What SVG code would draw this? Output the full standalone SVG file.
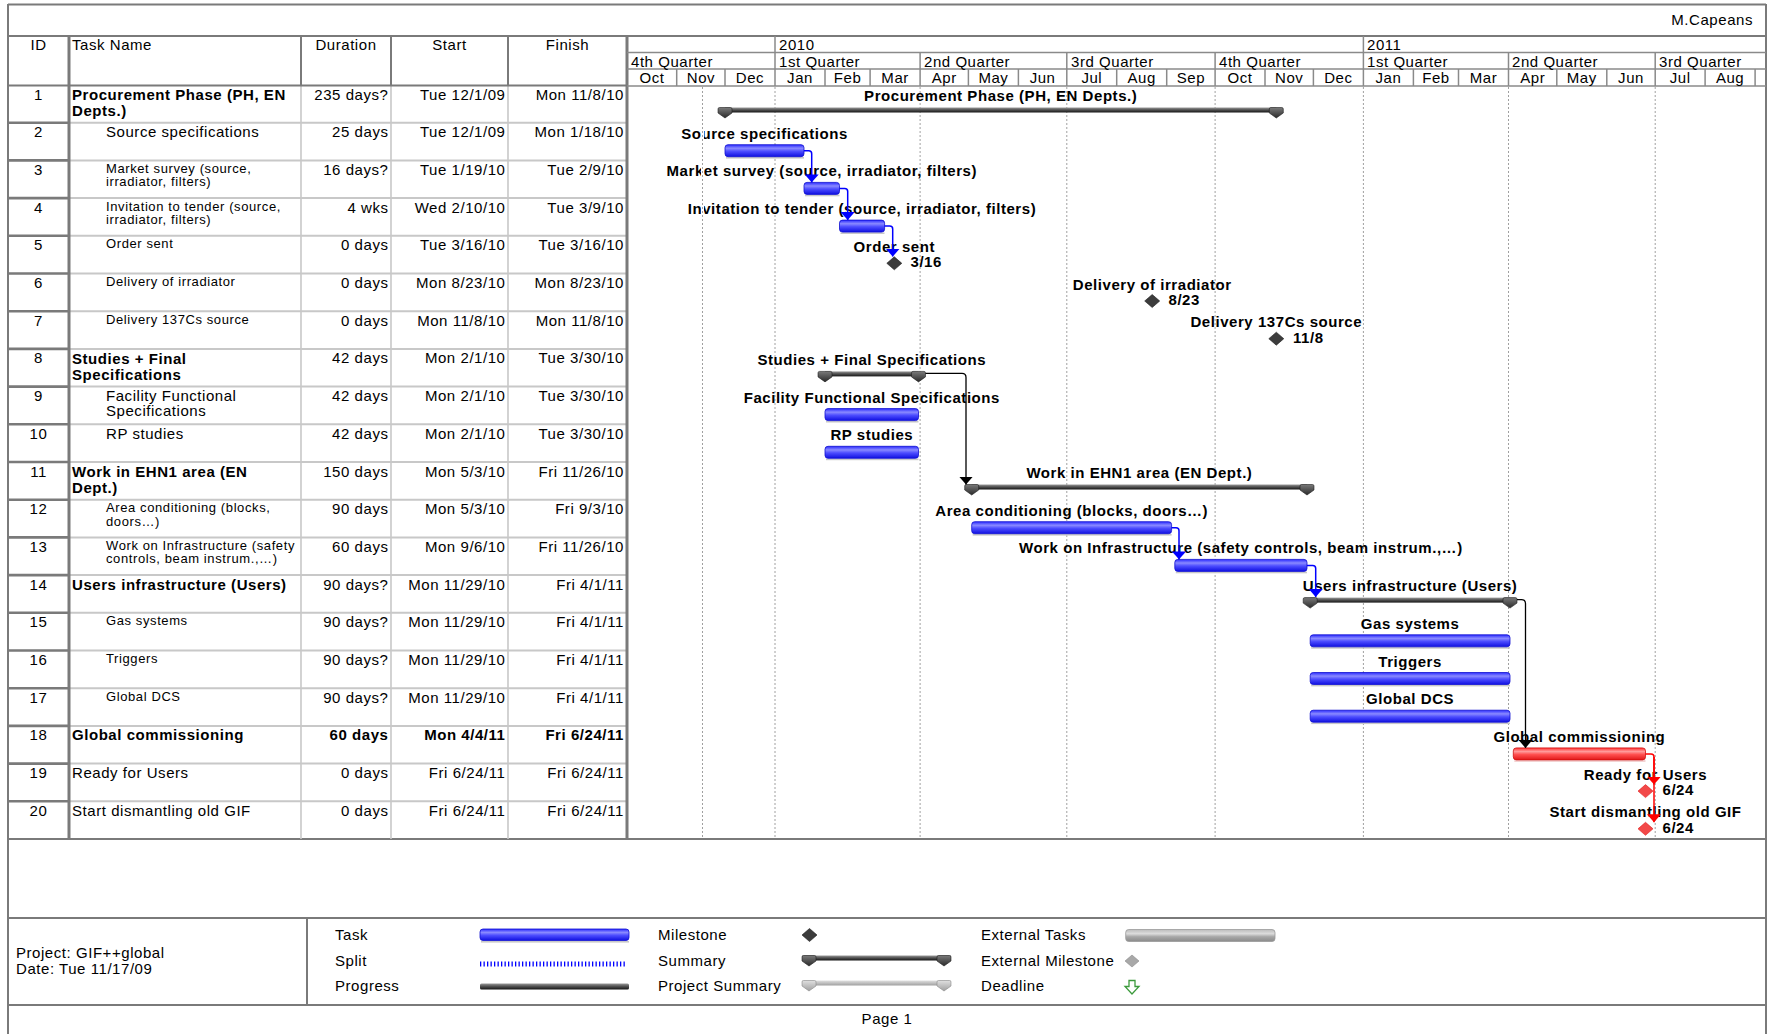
<svg xmlns="http://www.w3.org/2000/svg" width="1767" height="1034" viewBox="0 0 1767 1034">
<defs>
<style>
text{font-family:"Liberation Sans",Arial,sans-serif;font-size:15px;fill:#000;letter-spacing:0.55px}
.b{font-weight:bold}
.s{font-size:13px;letter-spacing:0.6px}
.m{text-anchor:middle}
.r{text-anchor:end}
.gl{font-weight:bold;text-anchor:middle}
.dk{stroke:#7a7a7a;fill:none}
.lt{stroke:#c8c8c8;fill:none}
.hd{stroke:#8a8a8a;stroke-width:1.5;fill:none}
.grid{stroke:#a0a0a0;stroke-width:1;stroke-dasharray:2 2;fill:none}
.bar{fill:url(#gBlue);stroke:#1010d0;stroke-width:0.8}
.rbar{fill:url(#gRed);stroke:#d01010;stroke-width:0.8}
.sh{fill:#c8c8c8}
.sum{fill:url(#gSum)}
.cb{stroke:#0000ff;stroke-width:1.5;fill:none;marker-end:url(#aB)}
.ck{stroke:#000;stroke-width:1.3;fill:none;marker-end:url(#aK)}
.cr{stroke:#ff0000;stroke-width:1.5;fill:none;marker-end:url(#aR)}
</style>
<linearGradient id="gBlue" x1="0" y1="0" x2="0" y2="1">
<stop offset="0" stop-color="#2a2aff"/><stop offset="0.3" stop-color="#8a8aff"/><stop offset="0.55" stop-color="#4d4dff"/><stop offset="1" stop-color="#1010e0"/>
</linearGradient>
<linearGradient id="gRed" x1="0" y1="0" x2="0" y2="1">
<stop offset="0" stop-color="#ff3030"/><stop offset="0.3" stop-color="#ff9a9a"/><stop offset="0.55" stop-color="#ff5050"/><stop offset="1" stop-color="#e01818"/>
</linearGradient>
<linearGradient id="gSum" x1="0" y1="0" x2="0" y2="1">
<stop offset="0" stop-color="#9a9a9a"/><stop offset="0.45" stop-color="#555"/><stop offset="1" stop-color="#151515"/>
</linearGradient>
<linearGradient id="gCap" x1="0" y1="0" x2="0" y2="1">
<stop offset="0" stop-color="#7a7a7a"/><stop offset="1" stop-color="#2a2a2a"/>
</linearGradient>
<linearGradient id="gProj" x1="0" y1="0" x2="0" y2="1">
<stop offset="0" stop-color="#e0e0e0"/><stop offset="1" stop-color="#a0a0a0"/>
</linearGradient>
<linearGradient id="gExt" x1="0" y1="0" x2="0" y2="1">
<stop offset="0" stop-color="#bcbcbc"/><stop offset="0.35" stop-color="#dcdcdc"/><stop offset="0.6" stop-color="#a8a8a8"/><stop offset="1" stop-color="#8a8a8a"/>
</linearGradient>
<marker id="aB" viewBox="0 0 8 14" refX="8" refY="7" markerWidth="8" markerHeight="14" markerUnits="userSpaceOnUse" orient="auto"><path d="M0,0L8,7L0,14Z" fill="#0000ff"/></marker>
<marker id="aK" viewBox="0 0 8 14" refX="8" refY="7" markerWidth="8" markerHeight="14" markerUnits="userSpaceOnUse" orient="auto"><path d="M0,0L8,7L0,14Z" fill="#000"/></marker>
<marker id="aR" viewBox="0 0 8 14" refX="8" refY="7" markerWidth="8" markerHeight="14" markerUnits="userSpaceOnUse" orient="auto"><path d="M0,0L8,7L0,14Z" fill="#ff0000"/></marker>
<path id="cap" d="M-7,1.5Q-7,0 -5.5,0H5.5Q7,0 7,1.5V5.5L0,10.5L-7,5.5Z" fill="url(#gCap)" stroke="#1e1e1e" stroke-width="0.6"/>
<path id="capL" d="M-7,1.5Q-7,0 -5.5,0H5.5Q7,0 7,1.5V5.5L0,10.5L-7,5.5Z" fill="url(#gProj)" stroke="#8a8a8a" stroke-width="0.6"/>
<path id="ms" d="M0,-6.5L7.5,0L0,6.5L-7.5,0Z" fill="#3c3c3c" stroke="#1e1e1e" stroke-width="0.6"/>
<path id="msr" d="M0,-6.5L7.5,0L0,6.5L-7.5,0Z" fill="#f24848" stroke="#e01c1c" stroke-width="0.6"/>
<path id="msg" d="M0,-6L7,0L0,6L-7,0Z" fill="#a8a8a8" stroke="#8a8a8a" stroke-width="0.6"/>
</defs>
<rect x="0" y="0" width="1767" height="1034" fill="#fff"/>

<g id="frame">
<path class="dk" stroke-width="2" d="M8,4.5H1766 M8,4V1034 M1766,4V1034 M8,36H1766 M8,839H1766 M8,918H1766 M8,1005H1766 M307,918V1005"/>
<text class="r" x="1753" y="25">M.Capeans</text>
</g>

<g id="table-grid">
<path class="lt" stroke-width="2" d="M69,122.7H627 M69,160.4H627 M69,198.1H627 M69,235.8H627 M69,273.5H627 M69,311.2H627 M69,348.9H627 M69,386.6H627 M69,424.3H627 M69,462H627 M69,499.7H627 M69,537.4H627 M69,575.1H627 M69,612.8H627 M69,650.5H627 M69,688.2H627 M69,725.9H627 M69,763.6H627 M69,801.3H627"/>
<path class="lt" stroke-width="1.6" d="M301,85V839 M391,85V839 M508,85V839"/>
<path class="dk" stroke-width="2.6" d="M8,122.7H69 M8,160.4H69 M8,198.1H69 M8,235.8H69 M8,273.5H69 M8,311.2H69 M8,348.9H69 M8,386.6H69 M8,424.3H69 M8,462H69 M8,499.7H69 M8,537.4H69 M8,575.1H69 M8,612.8H69 M8,650.5H69 M8,688.2H69 M8,725.9H69 M8,763.6H69 M8,801.3H69"/>
<path class="dk" stroke-width="3" d="M69,36V839 M627,36V839"/>
<path class="dk" stroke-width="2" d="M301,36V85 M391,36V85 M508,36V85 M8,85.5H627"/>
<text class="m" x="38.5" y="50">ID</text>
<text x="72" y="50">Task Name</text>
<text class="m" x="346" y="50">Duration</text>
<text class="m" x="449.5" y="50">Start</text>
<text class="m" x="567.5" y="50">Finish</text>
</g>

<g id="timescale">
<path class="hd" d="M627,52.5H1766 M627,69H1766 M627,86H1766 M775,36V52 M1363.4,36V52 M775,52V69 M920.1,52V69 M1066.8,52V69 M1215.1,52V69 M1363.4,52V69 M1508.5,52V69 M1655.2,52V69 M676.7,69V86 M725,69V86 M775,69V86 M825,69V86 M870.1,69V86 M920.1,69V86 M968.4,69V86 M1018.4,69V86 M1066.8,69V86 M1116.7,69V86 M1166.7,69V86 M1215.1,69V86 M1265,69V86 M1313.4,69V86 M1363.4,69V86 M1413.4,69V86 M1458.5,69V86 M1508.5,69V86 M1556.8,69V86 M1606.8,69V86 M1655.2,69V86 M1705.1,69V86 M1755.1,69V86"/>
<text x="779" y="50">2010</text>
<text x="1367" y="50">2011</text>
<text x="631" y="66.5">4th Quarter</text>
<text x="779" y="66.5">1st Quarter</text>
<text x="924" y="66.5">2nd Quarter</text>
<text x="1071" y="66.5">3rd Quarter</text>
<text x="1219" y="66.5">4th Quarter</text>
<text x="1367" y="66.5">1st Quarter</text>
<text x="1512" y="66.5">2nd Quarter</text>
<text x="1659" y="66.5">3rd Quarter</text>
<text class="m" x="652" y="83">Oct</text>
<text class="m" x="701" y="83">Nov</text>
<text class="m" x="750" y="83">Dec</text>
<text class="m" x="800" y="83">Jan</text>
<text class="m" x="847.6" y="83">Feb</text>
<text class="m" x="895.1" y="83">Mar</text>
<text class="m" x="944.3" y="83">Apr</text>
<text class="m" x="993.4" y="83">May</text>
<text class="m" x="1042.6" y="83">Jun</text>
<text class="m" x="1091.8" y="83">Jul</text>
<text class="m" x="1141.7" y="83">Aug</text>
<text class="m" x="1190.9" y="83">Sep</text>
<text class="m" x="1240.1" y="83">Oct</text>
<text class="m" x="1289.2" y="83">Nov</text>
<text class="m" x="1338.4" y="83">Dec</text>
<text class="m" x="1388.4" y="83">Jan</text>
<text class="m" x="1436" y="83">Feb</text>
<text class="m" x="1483.5" y="83">Mar</text>
<text class="m" x="1532.7" y="83">Apr</text>
<text class="m" x="1581.8" y="83">May</text>
<text class="m" x="1631" y="83">Jun</text>
<text class="m" x="1680.2" y="83">Jul</text>
<text class="m" x="1730.1" y="83">Aug</text>
</g>

<g id="gridlines">
<path class="grid" d="M775,87V838 M920.1,87V838 M1066.8,87V838 M1215.1,87V838 M1363.4,87V838 M1508.5,87V838 M1655.2,87V838"/>
</g>

<g id="task-1">
<text class="m" x="38.5" y="99.5">1</text>
<text class="b" x="72" y="100">Procurement Phase (PH, EN</text>
<text class="b" x="72" y="116">Depts.)</text>
<text class="r" x="388.5" y="99.5">235 days?</text>
<text class="r" x="505.5" y="99.5">Tue 12/1/09</text>
<text class="r" x="624" y="99.5">Mon 11/8/10</text>
<rect class="sum" x="725" y="107.5" width="551.3" height="5"/>
<use href="#cap" x="725" y="107.5"/><use href="#cap" x="1276.3" y="107.5"/>
<text class="gl" x="1000.7" y="101">Procurement Phase (PH, EN Depts.)</text>
</g>

<g id="task-2">
<text class="m" x="38.5" y="137.2">2</text>
<text x="106" y="137.2">Source specifications</text>
<text class="r" x="388.5" y="137.2">25 days</text>
<text class="r" x="505.5" y="137.2">Tue 12/1/09</text>
<text class="r" x="624" y="137.2">Mon 1/18/10</text>
<rect class="sh" x="726" y="157" width="78" height="1.6"/>
<rect class="bar" x="725" y="144.7" width="79" height="12" rx="3"/>
<text class="gl" x="764.5" y="138.7">Source specifications</text>
</g>

<g id="task-3">
<text class="m" x="38.5" y="174.9">3</text>
<text class="s" x="106" y="172.9">Market survey (source,</text>
<text class="s" x="106" y="186.4">irradiator, filters)</text>
<text class="r" x="388.5" y="174.9">16 days?</text>
<text class="r" x="505.5" y="174.9">Tue 1/19/10</text>
<text class="r" x="624" y="174.9">Tue 2/9/10</text>
<rect class="sh" x="805" y="194.7" width="34.5" height="1.6"/>
<rect class="bar" x="804" y="182.4" width="35.5" height="12" rx="3"/>
<text class="gl" x="821.8" y="176.4">Market survey (source, irradiator, filters)</text>
</g>

<g id="task-4">
<text class="m" x="38.5" y="212.6">4</text>
<text class="s" x="106" y="210.6">Invitation to tender (source,</text>
<text class="s" x="106" y="224.1">irradiator, filters)</text>
<text class="r" x="388.5" y="212.6">4 wks</text>
<text class="r" x="505.5" y="212.6">Wed 2/10/10</text>
<text class="r" x="624" y="212.6">Tue 3/9/10</text>
<rect class="sh" x="840.5" y="232.4" width="44" height="1.6"/>
<rect class="bar" x="839.5" y="220.1" width="45.1" height="12" rx="3"/>
<text class="gl" x="862" y="214.1">Invitation to tender (source, irradiator, filters)</text>
</g>

<g id="task-5">
<text class="m" x="38.5" y="250.3">5</text>
<text class="s" x="106" y="248.3">Order sent</text>
<text class="r" x="388.5" y="250.3">0 days</text>
<text class="r" x="505.5" y="250.3">Tue 3/16/10</text>
<text class="r" x="624" y="250.3">Tue 3/16/10</text>
<use href="#ms" x="894.3" y="263.3"/>
<text class="gl" x="894.3" y="251.8">Order sent</text>
<text class="b" x="910.5" y="267.3">3/16</text>
</g>

<g id="task-6">
<text class="m" x="38.5" y="288">6</text>
<text class="s" x="106" y="286">Delivery of irradiator</text>
<text class="r" x="388.5" y="288">0 days</text>
<text class="r" x="505.5" y="288">Mon 8/23/10</text>
<text class="r" x="624" y="288">Mon 8/23/10</text>
<use href="#ms" x="1152.2" y="301"/>
<text class="gl" x="1152.2" y="289.5">Delivery of irradiator</text>
<text class="b" x="1168.5" y="305">8/23</text>
</g>

<g id="task-7">
<text class="m" x="38.5" y="325.7">7</text>
<text class="s" x="106" y="323.7">Delivery 137Cs source</text>
<text class="r" x="388.5" y="325.7">0 days</text>
<text class="r" x="505.5" y="325.7">Mon 11/8/10</text>
<text class="r" x="624" y="325.7">Mon 11/8/10</text>
<use href="#ms" x="1276.3" y="338.7"/>
<text class="gl" x="1276.3" y="327.2">Delivery 137Cs source</text>
<text class="b" x="1293" y="342.7">11/8</text>
</g>

<g id="task-8">
<text class="m" x="38.5" y="363.4">8</text>
<text class="b" x="72" y="363.9">Studies + Final</text>
<text class="b" x="72" y="379.9">Specifications</text>
<text class="r" x="388.5" y="363.4">42 days</text>
<text class="r" x="505.5" y="363.4">Mon 2/1/10</text>
<text class="r" x="624" y="363.4">Tue 3/30/10</text>
<rect class="sum" x="825" y="371.4" width="93.5" height="5"/>
<use href="#cap" x="825" y="371.4"/><use href="#cap" x="918.5" y="371.4"/>
<text class="gl" x="871.8" y="364.9">Studies + Final Specifications</text>
</g>

<g id="task-9">
<text class="m" x="38.5" y="401.1">9</text>
<text x="106" y="401.1">Facility Functional</text>
<text x="106" y="416.1">Specifications</text>
<text class="r" x="388.5" y="401.1">42 days</text>
<text class="r" x="505.5" y="401.1">Mon 2/1/10</text>
<text class="r" x="624" y="401.1">Tue 3/30/10</text>
<rect class="sh" x="826" y="420.9" width="92.5" height="1.6"/>
<rect class="bar" x="825" y="408.6" width="93.5" height="12" rx="3"/>
<text class="gl" x="871.8" y="402.6">Facility Functional Specifications</text>
</g>

<g id="task-10">
<text class="m" x="38.5" y="438.8">10</text>
<text x="106" y="438.8">RP studies</text>
<text class="r" x="388.5" y="438.8">42 days</text>
<text class="r" x="505.5" y="438.8">Mon 2/1/10</text>
<text class="r" x="624" y="438.8">Tue 3/30/10</text>
<rect class="sh" x="826" y="458.6" width="92.5" height="1.6"/>
<rect class="bar" x="825" y="446.3" width="93.5" height="12" rx="3"/>
<text class="gl" x="871.8" y="440.3">RP studies</text>
</g>

<g id="task-11">
<text class="m" x="38.5" y="476.5">11</text>
<text class="b" x="72" y="477">Work in EHN1 area (EN</text>
<text class="b" x="72" y="493">Dept.)</text>
<text class="r" x="388.5" y="476.5">150 days</text>
<text class="r" x="505.5" y="476.5">Mon 5/3/10</text>
<text class="r" x="624" y="476.5">Fri 11/26/10</text>
<rect class="sum" x="971.7" y="484.5" width="335.3" height="5"/>
<use href="#cap" x="971.7" y="484.5"/><use href="#cap" x="1307" y="484.5"/>
<text class="gl" x="1139.4" y="478">Work in EHN1 area (EN Dept.)</text>
</g>

<g id="task-12">
<text class="m" x="38.5" y="514.2">12</text>
<text class="s" x="106" y="512.2">Area conditioning (blocks,</text>
<text class="s" x="106" y="525.7">doors…)</text>
<text class="r" x="388.5" y="514.2">90 days</text>
<text class="r" x="505.5" y="514.2">Mon 5/3/10</text>
<text class="r" x="624" y="514.2">Fri 9/3/10</text>
<rect class="sh" x="972.7" y="534" width="198.9" height="1.6"/>
<rect class="bar" x="971.7" y="521.7" width="199.9" height="12" rx="3"/>
<text class="gl" x="1071.7" y="515.7">Area conditioning (blocks, doors…)</text>
</g>

<g id="task-13">
<text class="m" x="38.5" y="551.9">13</text>
<text class="s" x="106" y="549.9">Work on Infrastructure (safety</text>
<text class="s" x="106" y="563.4">controls, beam instrum.,…)</text>
<text class="r" x="388.5" y="551.9">60 days</text>
<text class="r" x="505.5" y="551.9">Mon 9/6/10</text>
<text class="r" x="624" y="551.9">Fri 11/26/10</text>
<rect class="sh" x="1175.8" y="571.7" width="131.2" height="1.6"/>
<rect class="bar" x="1174.8" y="559.4" width="132.2" height="12" rx="3"/>
<text class="gl" x="1240.9" y="553.4">Work on Infrastructure (safety controls, beam instrum.,…)</text>
</g>

<g id="task-14">
<text class="m" x="38.5" y="589.6">14</text>
<text class="b" x="72" y="590.1">Users infrastructure (Users)</text>
<text class="r" x="388.5" y="589.6">90 days?</text>
<text class="r" x="505.5" y="589.6">Mon 11/29/10</text>
<text class="r" x="624" y="589.6">Fri 4/1/11</text>
<rect class="sum" x="1310.2" y="597.6" width="199.8" height="5"/>
<use href="#cap" x="1310.2" y="597.6"/><use href="#cap" x="1510" y="597.6"/>
<text class="gl" x="1410.1" y="591.1">Users infrastructure (Users)</text>
</g>

<g id="task-15">
<text class="m" x="38.5" y="627.3">15</text>
<text class="s" x="106" y="625.3">Gas systems</text>
<text class="r" x="388.5" y="627.3">90 days?</text>
<text class="r" x="505.5" y="627.3">Mon 11/29/10</text>
<text class="r" x="624" y="627.3">Fri 4/1/11</text>
<rect class="sh" x="1311.2" y="647.1" width="198.8" height="1.6"/>
<rect class="bar" x="1310.2" y="634.8" width="199.8" height="12" rx="3"/>
<text class="gl" x="1410.1" y="628.8">Gas systems</text>
</g>

<g id="task-16">
<text class="m" x="38.5" y="665">16</text>
<text class="s" x="106" y="663">Triggers</text>
<text class="r" x="388.5" y="665">90 days?</text>
<text class="r" x="505.5" y="665">Mon 11/29/10</text>
<text class="r" x="624" y="665">Fri 4/1/11</text>
<rect class="sh" x="1311.2" y="684.8" width="198.8" height="1.6"/>
<rect class="bar" x="1310.2" y="672.5" width="199.8" height="12" rx="3"/>
<text class="gl" x="1410.1" y="666.5">Triggers</text>
</g>

<g id="task-17">
<text class="m" x="38.5" y="702.7">17</text>
<text class="s" x="106" y="700.7">Global DCS</text>
<text class="r" x="388.5" y="702.7">90 days?</text>
<text class="r" x="505.5" y="702.7">Mon 11/29/10</text>
<text class="r" x="624" y="702.7">Fri 4/1/11</text>
<rect class="sh" x="1311.2" y="722.5" width="198.8" height="1.6"/>
<rect class="bar" x="1310.2" y="710.2" width="199.8" height="12" rx="3"/>
<text class="gl" x="1410.1" y="704.2">Global DCS</text>
</g>

<g id="task-18">
<text class="m" x="38.5" y="740.4">18</text>
<text class="b" x="72" y="740.4">Global commissioning</text>
<text class="b r" x="388.5" y="740.4">60 days</text>
<text class="b r" x="505.5" y="740.4">Mon 4/4/11</text>
<text class="b r" x="624" y="740.4">Fri 6/24/11</text>
<rect fill="#f0c8c8" x="1514.3" y="760.2" width="131.2" height="1.6"/>
<rect class="rbar" x="1513.3" y="747.9" width="132.2" height="12" rx="3"/>
<text class="gl" x="1579.4" y="741.9">Global commissioning</text>
</g>

<g id="task-19">
<text class="m" x="38.5" y="778.1">19</text>
<text x="72" y="778.1">Ready for Users</text>
<text class="r" x="388.5" y="778.1">0 days</text>
<text class="r" x="505.5" y="778.1">Fri 6/24/11</text>
<text class="r" x="624" y="778.1">Fri 6/24/11</text>
<use href="#msr" x="1645.5" y="791.1"/>
<text class="gl" x="1645.5" y="779.6">Ready for Users</text>
<text class="b" x="1662.5" y="795.1">6/24</text>
</g>

<g id="task-20">
<text class="m" x="38.5" y="815.8">20</text>
<text x="72" y="815.8">Start dismantling old GIF</text>
<text class="r" x="388.5" y="815.8">0 days</text>
<text class="r" x="505.5" y="815.8">Fri 6/24/11</text>
<text class="r" x="624" y="815.8">Fri 6/24/11</text>
<use href="#msr" x="1645.5" y="828.8"/>
<text class="gl" x="1645.5" y="817.3">Start dismantling old GIF</text>
<text class="b" x="1662.5" y="832.8">6/24</text>
</g>

<g id="status-line">
<path d="M702.5,87V838" stroke="#fff" stroke-width="3"/>
<path class="grid" d="M702.5,87V838"/>
</g>

<g id="connectors">
<path class="cb" d="M804,150.7H808.7Q811.7,150.7 811.7,153.7V182.4"/>
<path class="cb" d="M839.5,188.4H844.7Q847.7,188.4 847.7,191.4V220.1"/>
<path class="cb" d="M884.6,226.1H889.7Q892.7,226.1 892.7,229.1V256.6"/>
<path class="ck" d="M925.5,373.4H962Q966,373.4 966,377.4V484.5"/>
<path class="cb" d="M1171.6,527.7H1176Q1179,527.7 1179,530.7V559.4"/>
<path class="cb" d="M1307,565.4H1312.7Q1315.7,565.4 1315.7,568.4V597"/>
<path class="ck" d="M1517,599.6H1521.5Q1525.5,599.6 1525.5,603.6V747.9"/>
<path class="cr" d="M1645.5,753.9H1651Q1654,753.9 1654,756.9V784.6"/>
<path class="cr" d="M1654,757V822.3"/>
</g>

<g id="legend">
<text x="16" y="958">Project: GIF++global</text>
<text x="16" y="974">Date: Tue 11/17/09</text>
<text x="335" y="940">Task</text>
<text x="335" y="965.5">Split</text>
<text x="335" y="990.5">Progress</text>
<rect class="sh" x="481" y="941" width="148" height="1.6"/>
<rect class="bar" x="480" y="929" width="149" height="11.5" rx="3"/>
<line x1="480" y1="964" x2="627" y2="964" stroke="#0000ff" stroke-width="5" stroke-dasharray="1.3 2.2"/>
<rect x="480" y="983.5" width="149" height="6" rx="1.5" fill="url(#gSum)"/>
<text x="658" y="940">Milestone</text>
<use href="#ms" x="809.5" y="935"/>
<text x="658" y="965.5">Summary</text>
<rect class="sum" x="802" y="955.5" width="149" height="5"/>
<use href="#cap" x="809" y="955.5"/><use href="#cap" x="944" y="955.5"/>
<text x="658" y="990.5">Project Summary</text>
<rect fill="url(#gProj)" x="802" y="980.5" width="149" height="5"/>
<use href="#capL" x="809" y="980.5"/><use href="#capL" x="944" y="980.5"/>
<text x="981" y="940">External Tasks</text>
<rect x="1125.7" y="929.5" width="149.3" height="12" rx="3" fill="url(#gExt)" stroke="#9a9a9a" stroke-width="0.8"/>
<text x="981" y="965.5">External Milestone</text>
<use href="#msg" x="1132" y="961"/>
<text x="981" y="990.5">Deadline</text>
<path d="M1129,980.5H1135V986.5H1139L1132,994L1125,986.5H1129Z" fill="#fff" stroke="#3c9a3c" stroke-width="1.3"/>
</g>

<g id="footer">
<text class="m" x="887" y="1024">Page 1</text>
</g>
</svg>
